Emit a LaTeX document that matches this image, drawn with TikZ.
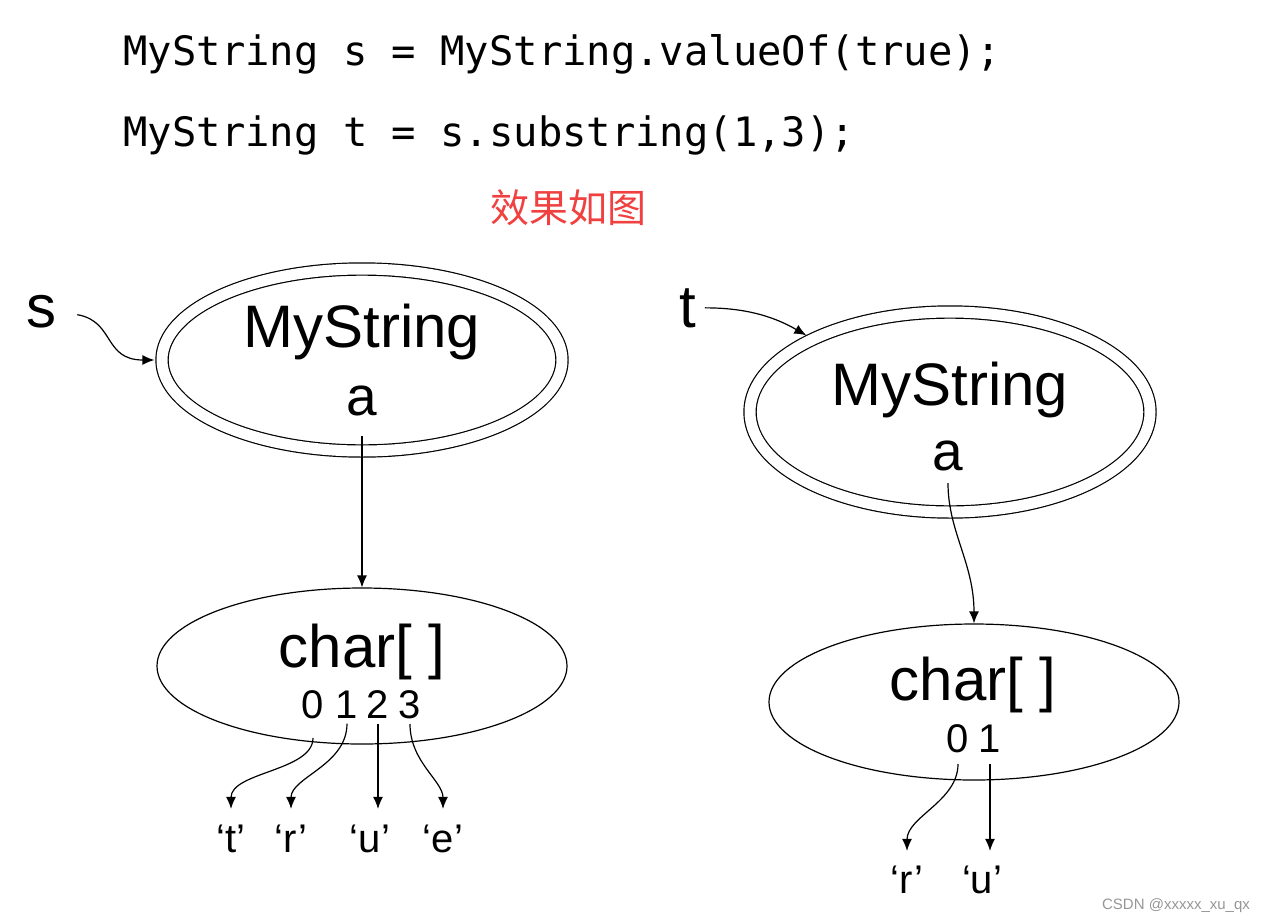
\documentclass[tikz,border=0pt]{standalone}
\usepackage{fontspec}
\setmainfont{Liberation Sans}
\setmonofont{DejaVu Sans Mono}
\newfontfamily\cjk{Noto Sans CJK SC}
\usetikzlibrary{shapes.geometric,arrows.meta}
\definecolor{notered}{RGB}{240,64,64}
\definecolor{markgray}{RGB}{150,150,150}

\begin{document}
\begin{tikzpicture}[x=1pt,y=-1pt,>={Latex[length=12pt,width=10pt]},line width=1.2pt,
  obj/.style={ellipse,draw,double,double distance=11pt,minimum width=400pt,inner sep=0pt},
  arr/.style={ellipse,draw,minimum width=410pt,minimum height=156pt,inner sep=0pt},
  big/.style={font=\fontsize{60}{72}\selectfont,inner sep=0pt,anchor=base},
  field/.style={font=\fontsize{55}{66}\selectfont,inner sep=0pt,anchor=base},
  small/.style={font=\fontsize{40}{48}\selectfont,inner sep=0pt,anchor=base},
  code/.style={font=\ttfamily\fontsize{40.5}{48}\selectfont,inner sep=0pt,anchor=base west}]
  \useasboundingbox (0,0) rectangle (1265,921);

  \node[code] (line1) at (123,65) {MyString s = MyString.valueOf(true);};
  \node[code] (line2) at (123,146) {MyString t = s.substring(1,3);};
  \node[font=\cjk\fontsize{39}{46}\selectfont,text=notered] (note) at (568,208) {效果如图};

  \node[obj,minimum height=182pt] (sobj) at (362,360) {};
  \node[big] (slbl) at (42,327) {s};
  \node[big] (sname) at (362,347) {MyString};
  \node[field] (sa) at (362,415) {a};
  \node[arr] (sarr) at (362,666) {};
  \node[big] (schar) at (362,667) {char[ ]};
  \node[small] (s0) at (313,718) {0};
  \node[small] (s1) at (347,718) {1};
  \node[small] (s2) at (378,718) {2};
  \node[small] (s3) at (410,718) {3};
  \node[small] (st) at (231,852) {‘t’};
  \node[small] (sr) at (291,852) {‘r’};
  \node[small] (su) at (370,852) {‘u’};
  \node[small] (se) at (443,852) {‘e’};

  \node[obj,minimum height=200pt] (robj) at (950,412) {};
  \node[big] (tlbl) at (688,327) {t};
  \node[big] (rname) at (950,405) {MyString};
  \node[field] (ra) at (948,470) {a};
  \node[arr] (rarr) at (974,702) {};
  \node[big] (rchar) at (973,700) {char[ ]};
  \node[small] (r0) at (958,752) {0};
  \node[small] (r1) at (990,752) {1};
  \node[small] (rr) at (907,893) {‘r’};
  \node[small] (ru) at (982,893) {‘u’};

  \node[font=\fontsize{15}{18}\selectfont,text=markgray,anchor=base] (mark) at (1176,909) {CSDN @xxxxx\_xu\_qx};

  \path[->] (slbl.east) edge[out=-10,in=180,looseness=1.3,shorten <=20pt,shorten >=7pt] (sobj.west)
        (sa.south) edge[shorten <=20pt] (sarr.north)
        (s0.south) edge[out=-90,in=90,shorten <=19pt,shorten >=15pt] (st.north)
        (s1.south) edge[out=-90,in=90,shorten <=5pt,shorten >=15pt] (sr.north)
        (s2.south) edge[shorten <=5pt,shorten >=15pt] (s2.south |- su.north)
        (s3.south) edge[out=-90,in=90,shorten <=5pt,shorten >=15pt] (se.north)
        (tlbl.east) edge[out=0,in=150,shorten <=8pt,shorten >=7pt] (robj.152)
        (ra.south) edge[out=-90,in=90,shorten <=12pt] (rarr.north)
        (r0.south) edge[out=-90,in=90,shorten <=11pt,shorten >=14pt] (rr.north)
        (r1.south) edge[shorten <=11pt,shorten >=14pt] (r1.south |- ru.north);
\end{tikzpicture}
\end{document}
